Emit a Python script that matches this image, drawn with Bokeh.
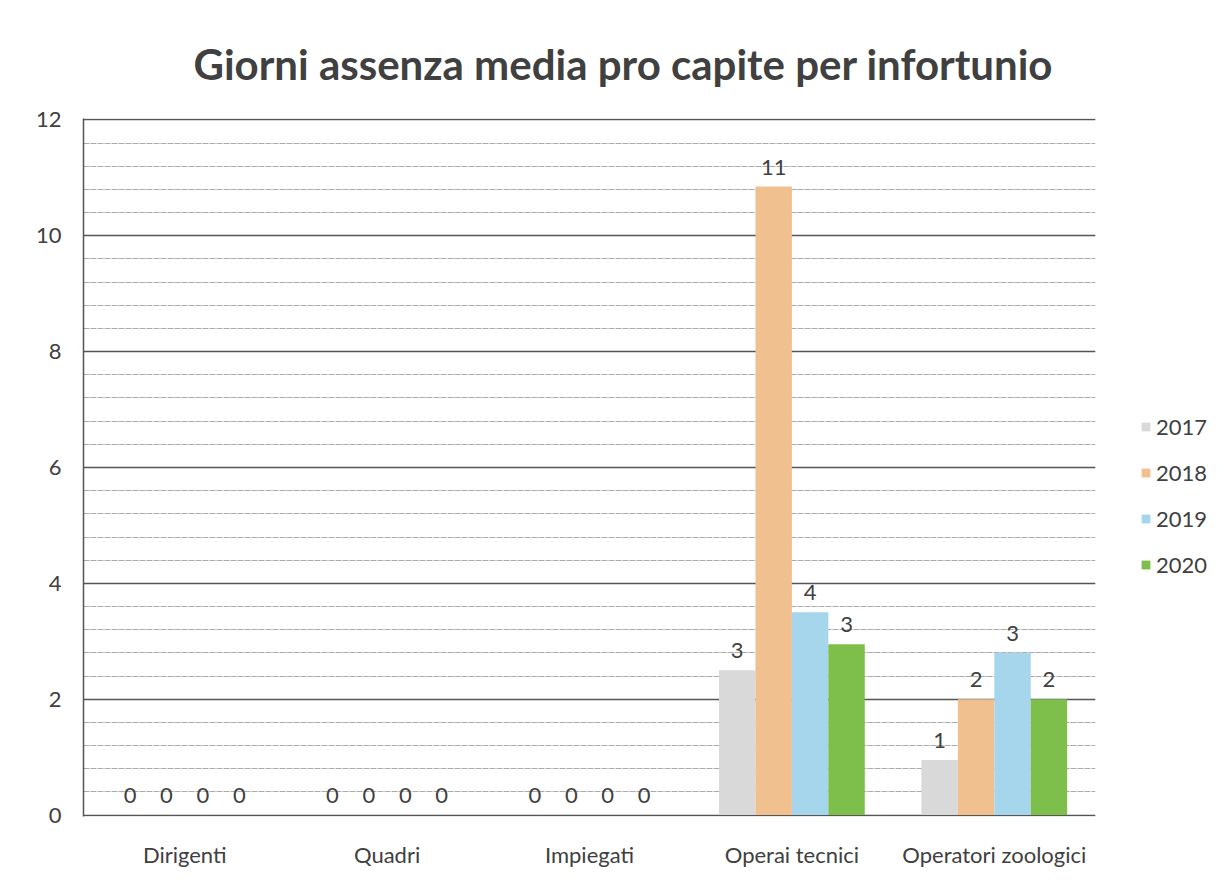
import math
from bokeh.plotting import figure
from bokeh.models import ColumnDataSource, FactorRange, Legend, LegendItem, SingleIntervalTicker
from bokeh.transform import dodge
from bokeh.core.properties import value
from bokeh.embed import file_html
from bokeh.resources import INLINE

categories = ["Dirigenti", "Quadri", "Impiegati", "Operai tecnici", "Operatori zoologici"]
years = ["2017", "2018", "2019", "2020"]
v2017 = [0, 0, 0, 2.5, 0.95]
v2018 = [0, 0, 0, 10.85, 2.0]
v2019 = [0, 0, 0, 3.5, 2.8]
v2020 = [0, 0, 0, 2.95, 2.0]
series = [v2017, v2018, v2019, v2020]
colors = ["#d9d9d9", "#f0c08f", "#a5d6ec", "#7dbf4a"]
title_text = "Giorni assenza media pro capite per infortunio"

FONT = "Lato"
TXT = "#404040"

p = figure(x_range=FactorRange(*categories), y_range=(-0.025, 12.025),
           frame_width=1012, frame_height=698, output_backend="svg", toolbar_location=None,
           min_border_left=83, min_border_right=10, min_border_top=118, min_border_bottom=57)

p.title.text = title_text
p.title.align = "left"
p.title.text_font = FONT
p.title.text_font_size = "42px"
p.title.text_font_style = "bold"
p.title.text_color = TXT
p.title.offset = 110
p.title.standoff = 60

offsets = [-0.27, -0.09, 0.09, 0.27]
items = []
for yr, vals, col, off in zip(years, series, colors, offsets):
    src = ColumnDataSource(dict(cat=categories, val=vals,
                                lab=[str(math.floor(v + 0.5)) for v in vals]))
    r = p.vbar(x=dodge('cat', off, range=p.x_range), top='val', width=0.18,
               source=src, fill_color=col, line_color=None)
    p.text(x=dodge('cat', off, range=p.x_range), y='val', text='lab', source=src,
           text_align='center', text_baseline='bottom', y_offset=-12,
           text_font=value(FONT), text_font_size="22px", text_color=TXT)
    items.append(LegendItem(label=yr, renderers=[r]))

legend = Legend(items=items, location=(45, 238), glyph_width=11, glyph_height=11,
                label_text_font=FONT, label_text_font_size="22px", label_text_color=TXT,
                spacing=19, padding=0, margin=0, border_line_color=None,
                background_fill_alpha=0)
p.add_layout(legend, "right")

p.xgrid.grid_line_color = None
p.yaxis.ticker = SingleIntervalTicker(interval=2, num_minor_ticks=5)
p.ygrid.grid_line_color = "#555555"
p.ygrid.grid_line_width = 1.5
p.ygrid.minor_grid_line_color = "#ababab"
p.ygrid.minor_grid_line_dash = "6 1"
p.outline_line_color = None

for ax in (p.xaxis, p.yaxis):
    ax.axis_line_color = None
    ax.major_tick_line_color = None
    ax.minor_tick_line_color = None
    ax.major_label_text_font = FONT
    ax.major_label_text_font_size = "22px"
    ax.major_label_text_color = TXT
p.yaxis.axis_line_color = "#555555"
p.yaxis.axis_line_width = 1.5
p.xaxis.major_label_standoff = 18
p.yaxis.major_label_standoff = 16

open("out.html", "w").write(file_html(p, INLINE))
